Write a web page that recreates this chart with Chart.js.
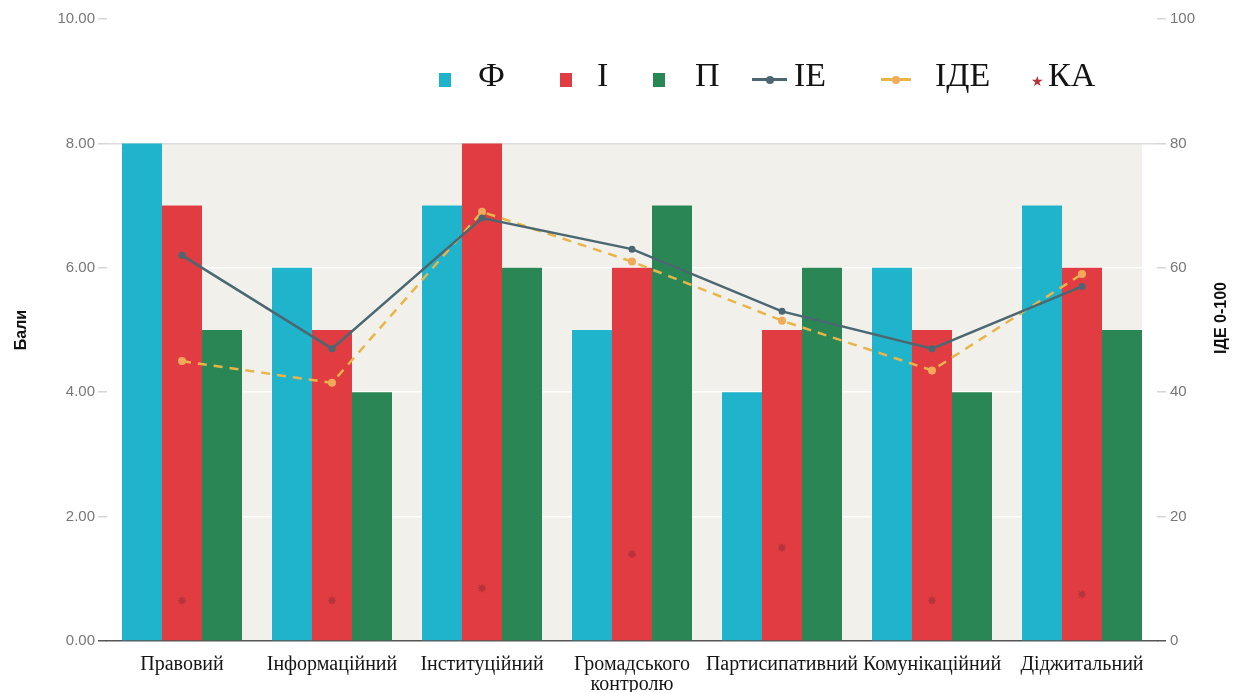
<!DOCTYPE html>
<html lang="uk">
<head>
<meta charset="utf-8">
<title>Виміри: Ф, І, П, ІЕ, ІДЕ, КА</title>
<script src="https://cdn.jsdelivr.net/npm/chart.js@4.4.1/dist/chart.umd.min.js"></script>
<style>
  html, body { margin: 0; padding: 0; background: #ffffff; }
  #wrap { position: relative; width: 1243px; height: 692px; overflow: hidden; }
  #chart { position: absolute; left: 0; top: 0; }
  #legend { position: absolute; left: 0; top: 0; width: 1243px; height: 120px; pointer-events: none; }
  .lg-text { position: absolute; top: 56px; height: 38px; line-height: 38px;
             font-family: "Liberation Serif", "DejaVu Serif", serif; font-size: 34px; color: #141414; white-space: nowrap; }
  .lg-mark { position: absolute; }
</style>
</head>
<body>
<div id="wrap">
  <canvas id="chart" width="1243" height="692"></canvas>
  <div id="legend"></div>
</div>
<script>
// Categories (dimensions) along the x axis
const categories = ['Правовий', 'Інформаційний', 'Інституційний', ['Громадського', 'контролю'],
                    'Партисипативний', 'Комунікаційний', 'Діджитальний'];

// Bar series, scored in points (left axis, 0–10)
const seriesF = [8, 6, 7, 5, 4, 6, 7];
const seriesI = [7, 5, 8, 6, 5, 5, 6];
const seriesP = [5, 4, 6, 7, 6, 4, 5];

// Index series on the 0–100 scale (right axis)
const seriesIE  = [62, 47, 68, 63, 53, 47, 57];
const seriesIDE = [45, 41.5, 69, 61, 51.5, 43.5, 59];
const seriesKA  = [6.5, 6.5, 8.5, 14, 15, 6.5, 7.5];

// Tick labels for both value axes
const leftTickLabels  = ['0.00', '2.00', '4.00', '6.00', '8.00', '10.00'];
const rightTickLabels = ['0', '20', '40', '60', '80', '100'];

const COLORS = {
  F: '#1fb4cc', I: '#e03c42', P: '#2a8755',
  IE: '#4b6872', IDE: '#e8b548', IDEpt: '#f2a95a', KA: '#b3343a'
};

// Light panel behind the bar groups, up to the tallest bar
const shadePlugin = {
  id: 'shadePanel',
  beforeDraw(chart) {
    const { ctx, scales: { x, y } } = chart;
    const step = x.getPixelForValue(1) - x.getPixelForValue(0);
    const half = step * 0.4;
    const left = x.getPixelForValue(0) - half;
    const right = x.getPixelForValue(categories.length - 1) + half;
    const topVal = Math.max(...seriesF, ...seriesI, ...seriesP);
    const top = y.getPixelForValue(topVal);
    const bottom = y.getPixelForValue(0);
    ctx.save();
    ctx.fillStyle = '#f1f0eb';
    ctx.fillRect(left, top, right - left, bottom - top);
    ctx.restore();
  }
};

// Right-hand axis title, reading bottom to top
const rightTitlePlugin = {
  id: 'rightTitle',
  afterDraw(chart) {
    const { ctx, chartArea } = chart;
    ctx.save();
    ctx.translate(1222, (chartArea.top + chartArea.bottom) / 2 - 12);
    ctx.rotate(-Math.PI / 2);
    ctx.font = 'bold 16px "Liberation Sans", Arial, sans-serif';
    ctx.fillStyle = '#111111';
    ctx.textAlign = 'center';
    ctx.textBaseline = 'middle';
    ctx.fillText('ІДЕ 0-100', 0, 0);
    ctx.restore();
  }
};

const tickFont = { family: '"Liberation Sans", Arial, sans-serif', size: 15 };

const chart = new Chart(document.getElementById('chart'), {
  type: 'bar',
  data: {
    labels: categories,
    datasets: [
      { label: 'Ф', data: seriesF, backgroundColor: COLORS.F, yAxisID: 'y', order: 3,
        categoryPercentage: 0.8, barPercentage: 1.0 },
      { label: 'І', data: seriesI, backgroundColor: COLORS.I, yAxisID: 'y', order: 3,
        categoryPercentage: 0.8, barPercentage: 1.0 },
      { label: 'П', data: seriesP, backgroundColor: COLORS.P, yAxisID: 'y', order: 3,
        categoryPercentage: 0.8, barPercentage: 1.0 },
      { type: 'line', label: 'ІЕ', data: seriesIE, yAxisID: 'y1', order: 1,
        borderColor: COLORS.IE, backgroundColor: COLORS.IE, borderWidth: 2.5,
        pointRadius: 3.5, pointBackgroundColor: COLORS.IE, pointBorderWidth: 0, tension: 0 },
      { type: 'line', label: 'ІДЕ', data: seriesIDE, yAxisID: 'y1', order: 2,
        borderColor: COLORS.IDE, backgroundColor: COLORS.IDEpt, borderWidth: 2.5, borderDash: [9, 7],
        pointRadius: 4, pointBackgroundColor: COLORS.IDEpt, pointBorderWidth: 0, tension: 0 },
      { type: 'line', label: 'КА', data: seriesKA, yAxisID: 'y1', order: 0, showLine: false,
        pointStyle: 'star', pointRadius: 4, borderColor: COLORS.KA, backgroundColor: COLORS.KA,
        pointBorderWidth: 1.5 }
    ]
  },
  options: {
    responsive: false,
    animation: false,
    layout: { padding: { top: 19, left: 0, right: 0, bottom: 0 } },
    plugins: { legend: { display: false }, tooltip: { enabled: false } },
    scales: {
      x: {
        grid: { display: false },
        border: { display: true, color: '#555555', width: 1.5 },
        ticks: {
          font: { family: '"Liberation Serif", "DejaVu Serif", serif', size: 20, lineHeight: 1.0 },
          color: '#151515', padding: 6, maxRotation: 0, autoSkip: false
        },
        afterFit(scale) { scale.height = 51; }
      },
      y: {
        position: 'left', min: 0, max: 10,
        border: { display: false },
        grid: {
          color: (c) => c.tick && c.tick.value === 8 ? '#dcdcdc'
                      : (c.tick && c.tick.value > 0 && c.tick.value < 8 ? 'rgba(255,255,255,0.95)' : 'rgba(0,0,0,0)'),
          tickColor: (c) => c.tick && c.tick.value === 0 ? '#555555' : '#d6d6d6',
          lineWidth: 1.5, tickLength: 9
        },
        ticks: {
          stepSize: 2, font: tickFont, color: '#777777', padding: 3,
          callback: (v, i) => leftTickLabels[i]
        },
        title: {
          display: true, text: 'Бали', color: '#111111',
          font: { family: '"Liberation Sans", Arial, sans-serif', size: 16, weight: 'bold' },
          padding: { top: 12, bottom: 0 }
        },
        afterFit(scale) { scale.width = 107; }
      },
      y1: {
        position: 'right', min: 0, max: 100,
        border: { display: false },
        grid: {
          drawOnChartArea: false,
          color: (c) => c.tick && c.tick.value === 0 ? '#555555' : '#d6d6d6',
          tickColor: (c) => c.tick && c.tick.value === 0 ? '#555555' : '#d6d6d6',
          lineWidth: 1.5, tickLength: 9
        },
        ticks: {
          stepSize: 20, font: tickFont, color: '#777777', padding: 4,
          callback: (v, i) => rightTickLabels[i]
        },
        afterFit(scale) { scale.width = 86; }
      }
    }
  },
  plugins: [shadePlugin, rightTitlePlugin]
});

// Legend laid across the top of the plot, built from the datasets
(function buildLegend() {
  const host = document.getElementById('legend');
  const spots = [[439, 478], [560, 597], [653, 695], [752, 794], [881, 935], [1031, 1048]];
  chart.data.datasets.forEach((ds, i) => {
    const [mx, tx] = spots[i];
    const mark = document.createElement('div');
    mark.className = 'lg-mark';
    if (!ds.type) {
      Object.assign(mark.style, { left: mx + 'px', top: '73px', width: '12px', height: '14px', background: ds.backgroundColor });
    } else if (ds.showLine === false) {
      mark.textContent = '★';
      Object.assign(mark.style, { left: mx + 'px', top: '75px', fontSize: '14px', lineHeight: '14px', color: ds.borderColor });
    } else {
      const w = ds.borderDash ? 30 : 35;
      Object.assign(mark.style, { left: mx + 'px', top: '78px', width: w + 'px', height: '3px', background: ds.borderColor });
      const dot = document.createElement('div');
      Object.assign(dot.style, { position: 'absolute', left: (w / 2 - 4) + 'px', top: '-2.5px', width: '8px', height: '8px',
                                 borderRadius: '50%', background: ds.pointBackgroundColor });
      mark.appendChild(dot);
    }
    host.appendChild(mark);
    const txt = document.createElement('div');
    txt.className = 'lg-text';
    txt.style.left = tx + 'px';
    txt.textContent = ds.label;
    host.appendChild(txt);
  });
})();
</script>
</body>
</html>
